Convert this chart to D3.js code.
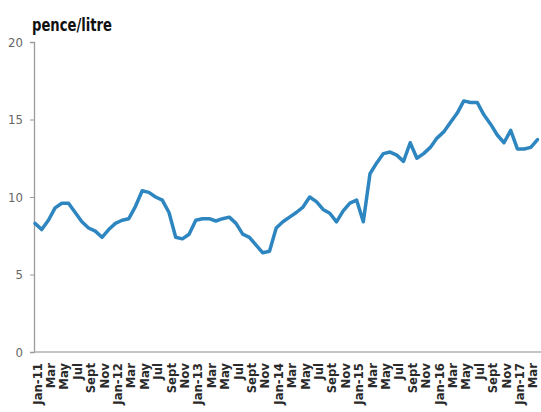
<!DOCTYPE html>
<html><head><meta charset="utf-8">
<script src="https://cdn.jsdelivr.net/npm/d3@7"></script>
<style>body{margin:0;background:#fff}svg{display:block}
.cond{font-family:'DejaVu Sans Condensed','DejaVu Sans',sans-serif;font-stretch:condensed}</style>
</head><body>
<svg id="c" width="541" height="412"></svg>
<script>
const startYear = 2011, startMonth = 0; // Jan 2011, monthly
const values = [8.3,7.9,8.5,9.3,9.6,9.6,9.0,8.4,8.0,7.8,7.4,7.9,
  8.3,8.5,8.6,9.4,10.4,10.3,10.0,9.8,9.0,7.4,7.3,7.6,
  8.5,8.6,8.6,8.45,8.6,8.7,8.3,7.6,7.4,6.9,6.4,6.5,
  8.0,8.4,8.7,9.0,9.35,10.0,9.7,9.2,8.95,8.4,9.1,9.6,
  9.8,8.4,11.5,12.2,12.8,12.9,12.7,12.3,13.5,12.5,12.8,13.2,
  13.8,14.2,14.8,15.4,16.2,16.1,16.1,15.3,14.7,14.0,13.5,14.3,
  13.1,13.1,13.2,13.7];
const monthNames = ["Jan","Mar","May","Jul","Sept","Nov"];
const yTicks = [0,5,10,15,20];
const yTitle = "pence/litre";

const svg = d3.select("#c");
const x = d3.scaleLinear().domain([0, values.length-1]).range([35, 537.5]);
const y = d3.scaleLinear().domain([0,20]).range([352, 42]);

const xLabels = d3.range(0, values.length, 2).map(i => {
  const m = (startMonth + i) % 12, yr = startYear + Math.floor((startMonth+i)/12);
  return {i, text: m === 0 ? "Jan-" + String(yr).slice(2) : monthNames[m/2]};
});

// y axis
const yAxis = d3.axisLeft(y).tickValues(yTicks).tickSize(4).tickPadding(7);
const gy = svg.append("g").attr("transform","translate(34,0)").call(yAxis);
gy.select(".domain").attr("stroke","#9a9a9a").attr("stroke-width",1.3);
gy.selectAll(".tick line").attr("stroke","#9a9a9a");
gy.selectAll(".tick text").attr("class","cond").attr("fill","#666").attr("font-size",13).attr("font-family",null);

// x axis baseline
svg.append("line").attr("x1",34).attr("x2",541).attr("y1",352).attr("y2",352)
  .attr("stroke","#b0b0b0").attr("stroke-width",1.5);

// x labels
svg.append("g").selectAll("text").data(xLabels).join("text")
  .attr("class","cond")
  .attr("transform", d => `translate(${x(d.i)+2},363) rotate(-90)`)
  .attr("text-anchor","end").attr("dy","0.35em")
  .attr("font-weight","bold").attr("font-size",13).attr("fill","#2a2a2a")
  .text(d => d.text);

// line
const line = d3.line().x((d,i)=>x(i)).y(d=>y(d));
svg.append("path").datum(values).attr("d", line)
  .attr("fill","none").attr("stroke","#2e86c1").attr("stroke-width",3.5)
  .attr("stroke-linejoin","round").attr("stroke-linecap","round");

// title
svg.append("text").attr("class","cond").attr("x",32).attr("y",31).text(yTitle)
  .attr("font-weight","bold").attr("font-size",17).attr("fill","#111")
  .attr("textLength",80).attr("lengthAdjust","spacingAndGlyphs");
</script>
</body></html>
